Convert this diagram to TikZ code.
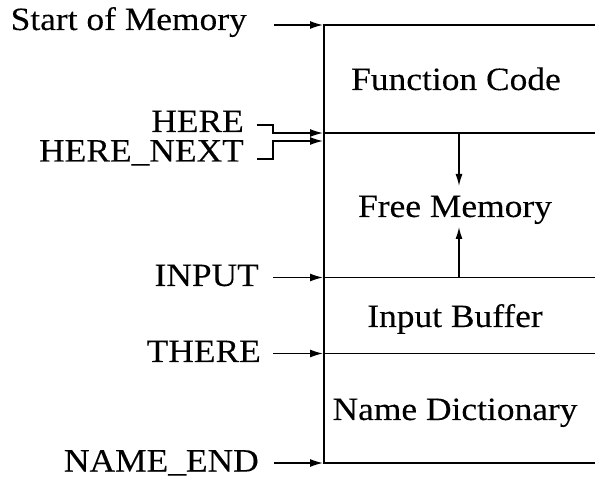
\documentclass[tikz,border=0pt]{standalone}
\usepackage{fontspec}
\setmainfont{Liberation Serif}[FakeStretch=1.09,FakeBold=0.15]
\usetikzlibrary{arrows.meta}
\begin{document}
\begin{tikzpicture}[x=1pt,y=-1pt,
  lbl/.style={anchor=base east,inner sep=0pt,font=\fontsize{32.5}{36}\selectfont},
  reg/.style={anchor=base,inner sep=0pt,font=\fontsize{32.5}{36}\selectfont},
  outer/.style={line width=2.4pt},
  inner/.style={line width=1.4pt},
  ptr/.style={line width=1.4pt,-{Latex[length=13pt,width=8pt]}},
  growarrow/.style={line width=1.4pt,-{Latex[length=12pt,width=7pt]}}]
\useasboundingbox (0,0) rectangle (595,478);
% memory box
\coordinate (tl) at (324,25);
\coordinate (tr) at (596,25);
\coordinate (bl) at (324,463);
\coordinate (br) at (596,463);
\coordinate (hl) at (324,133);   \coordinate (hr) at (596,133);
\coordinate (il) at (324,277.5); \coordinate (ir) at (596,277.5);
\coordinate (tl2) at (324,353.5);\coordinate (tr2) at (596,353.5);
\draw[outer] (tr) -- (tl) -- (bl) -- (br);
\draw[inner] (hl) -- (hr);
\draw[inner] (il) -- (ir);
\draw[inner] (tl2) -- (tr2);
% region labels
\node[reg] (fc) at (456,90) {Function Code};
\node[reg] (fm) at (455,217) {Free Memory};
\node[reg] (ib) at (455,327) {Input Buffer};
\node[reg] (nd) at (455,420) {Name Dictionary};
% growth arrows
\coordinate (hg) at (459,133);
\coordinate (hgt) at (459,186);
\coordinate (ig) at (459,277.5);
\coordinate (igt) at (459,227);
\draw[growarrow] (hg) -- (hgt);
\draw[growarrow] (ig) -- (igt);
% pointer labels
\node[lbl] (som) at (247,30) {Start of Memory};
\node[lbl] (here) at (244,132) {HERE};
\node[lbl] (hnext) at (244,161.5) {HERE\_NEXT};
\node[lbl] (input) at (259,286) {INPUT};
\node[lbl] (there) at (261,362) {THERE};
\node[lbl] (nend) at (259,471.5) {NAME\_END};
% pointer arrows
\coordinate (somS) at (274,25);
\coordinate (somE) at (323,25);
\coordinate (hereS) at (257,125);
\coordinate (hereE) at (323,133);
\coordinate (hnS) at (257,159);
\coordinate (hnE) at (323,141);
\coordinate (inS) at (273,277.5);
\coordinate (inE) at (323,277.5);
\coordinate (thS) at (273,353.5);
\coordinate (thE) at (323,353.5);
\coordinate (neS) at (274,463);
\coordinate (neE) at (323,463);
\draw[ptr] (somS) -- (somE);
\draw[ptr] (hereS) -- ++(16,0) |- (hereE);
\draw[ptr] (hnS) -- ++(16,0) |- (hnE);
\draw[ptr] (inS) -- (inE);
\draw[ptr] (thS) -- (thE);
\draw[ptr] (neS) -- (neE);
\end{tikzpicture}
\end{document}
